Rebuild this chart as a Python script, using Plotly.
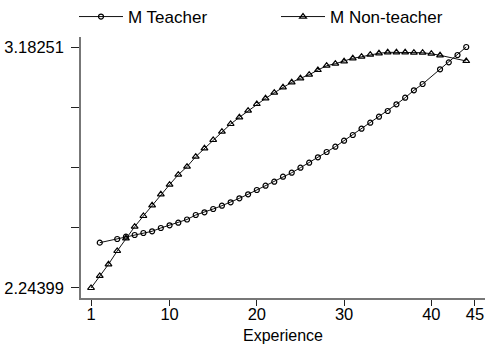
import plotly.graph_objects as go

# Teacher series (circles)
teacher_x = [2, 4, 5, 6, 7, 8, 9, 10, 11, 12, 13, 14, 15, 16, 17, 18, 19, 20, 21, 22,
             23, 24, 25, 26, 27, 28, 29, 30, 31, 32, 33, 34, 35, 36, 37, 38, 39,
             41, 42, 43, 44]
teacher_y = [2.4205, 2.4348, 2.4438, 2.4504, 2.4582, 2.4648, 2.4777, 2.4882, 2.4983, 2.5108,
             2.5283, 2.5388, 2.5517, 2.5645, 2.5778, 2.5933, 2.6089, 2.6256, 2.6424, 2.6580,
             2.6774, 2.6930, 2.7125, 2.7320, 2.7530, 2.7736, 2.7943, 2.8176, 2.8398, 2.8644,
             2.8877, 2.9111, 2.9333, 2.9594, 2.9851, 3.0139, 3.0384,
             3.0957, 3.1229, 3.1514, 3.18251]

# Non-teacher series (triangles)
nonteacher_x = [1, 2, 3, 4, 5, 6, 7, 8, 9, 10, 11, 12, 13, 14, 15, 16, 17, 18, 19, 20,
                21, 22, 23, 24, 25, 26, 27, 28, 29, 30, 31, 32, 33, 34, 35, 36, 37, 38,
                39, 40, 41, 44]
nonteacher_y = [2.24399, 2.2908, 2.3363, 2.3881, 2.4376, 2.4827, 2.5244, 2.5661, 2.6089, 2.6463,
                2.6852, 2.7164, 2.7553, 2.7880, 2.8204, 2.8527, 2.8827, 2.9087, 2.9345, 2.9605,
                2.9827, 3.0045, 3.0256, 3.0450, 3.0606, 3.0746, 3.0929, 3.1097, 3.1175, 3.1268,
                3.1385, 3.1447, 3.1525, 3.1580, 3.1619, 3.1619, 3.1619, 3.1603,
                3.1603, 3.1564, 3.1502, 3.1280]

y_min, y_max = 2.24399, 3.18251
x_ticks = [1, 10, 20, 30, 40, 45]
y_ticks = [y_min + i * (y_max - y_min) / 4 for i in range(5)]
y_ticktext = ["2.24399", "", "", "", "3.18251"]

FONT = "Liberation Sans, Arial, sans-serif"

fig = go.Figure()
fig.add_trace(go.Scatter(
    x=teacher_x, y=teacher_y, mode="lines+markers", name="M Teacher",
    line=dict(color="#111111", width=1),
    marker=dict(symbol="circle-open", size=5, color="#000000", line=dict(width=1.2)),
))
fig.add_trace(go.Scatter(
    x=nonteacher_x, y=nonteacher_y, mode="lines+markers", name="M Non-teacher",
    line=dict(color="#111111", width=1),
    marker=dict(symbol="triangle-up-open", size=6, color="#000000", line=dict(width=1.2)),
))

fig.update_layout(
    width=486, height=344,
    margin=dict(l=81, r=1, t=37, b=46, autoexpand=False),
    paper_bgcolor="white", plot_bgcolor="white",
    font=dict(family=FONT, size=16.5, color="#000000"),
    showlegend=True,
    legend=dict(orientation="h", x=74 / 486, xref="container", xanchor="left",
                y=1 - 17 / 344, yref="container", yanchor="middle",
                entrywidth=143, entrywidthmode="pixels",
                font=dict(size=17), itemwidth=44,
                bgcolor="rgba(0,0,0,0)"),
    xaxis=dict(range=[-0.15, 46.15], tickmode="array", tickvals=x_ticks,
               ticks="outside", ticklen=6, tickcolor="#222222", tickwidth=1,
               showline=True, linecolor="#777777", linewidth=1.5,
               showgrid=False, zeroline=False, ticklabelstandoff=-6,
               title=dict(text="Experience", font=dict(size=16))),
    yaxis=dict(range=[2.205, 3.2215], tickmode="array", tickvals=y_ticks,
               ticktext=y_ticktext,
               ticks="outside", ticklen=8, tickcolor="#222222", tickwidth=1,
               showline=True, linecolor="#777777", linewidth=1.5,
               showgrid=False, zeroline=False, ticklabelstandoff=4),
)

fig.write_html("out.html", config={"displayModeBar": False},
               post_script="document.body.style.margin='0';")
